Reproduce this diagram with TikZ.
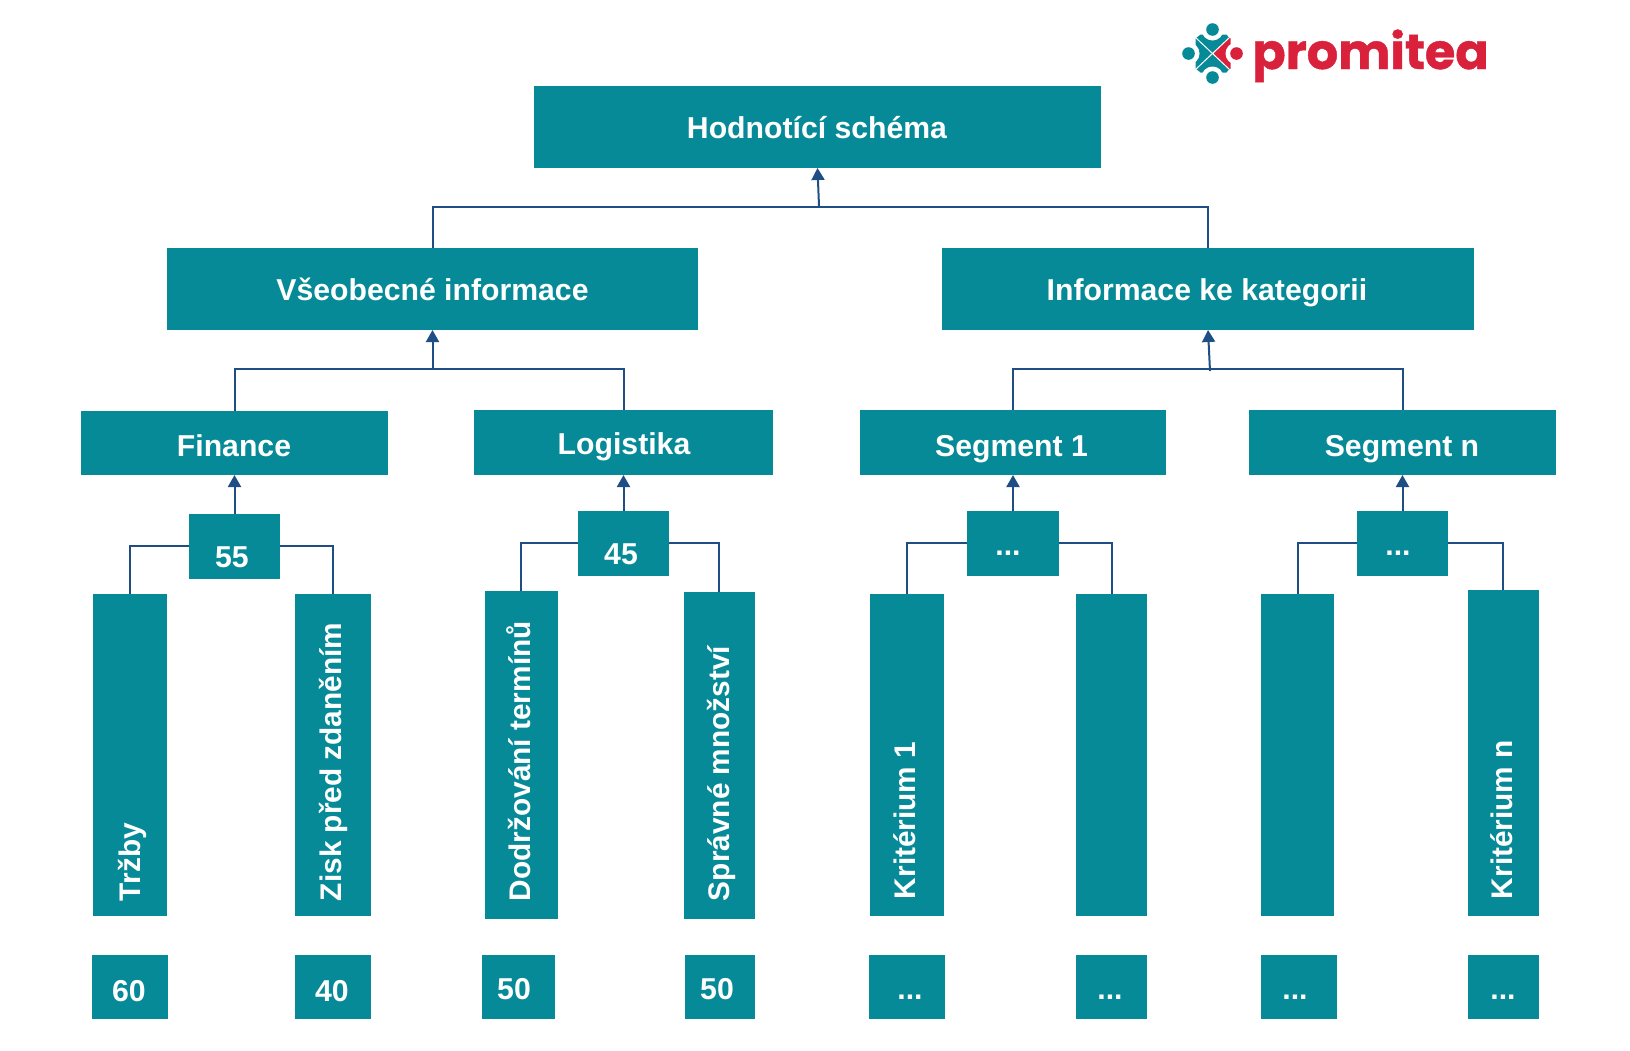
\documentclass[tikz,border=0pt]{standalone}
\usepackage{fontspec}
\setmainfont{Liberation Sans}
\newfontfamily\logofont[FakeBold=0.9]{Poppins}
\usetikzlibrary{arrows.meta}
\definecolor{teal1}{HTML}{078A98}
\definecolor{line1}{HTML}{1F4E85}
\definecolor{red1}{HTML}{D9213C}
\tikzset{
  tbox/.style={fill=teal1,draw=none,inner sep=0pt,outer sep=0pt},
  lbl/.style={text=white,font=\fontsize{30.2}{33}\selectfont\bfseries,inner sep=0pt,outer sep=0pt,anchor=base},
  vlbl/.style={text=white,font=\fontsize{29.8}{33}\selectfont\bfseries,inner sep=0pt,outer sep=0pt,rotate=90,anchor=base west},
  conn/.style={draw=line1,line width=2pt,line join=miter},
  arr/.style={draw=line1,line width=2pt,-{Triangle[length=12pt,width=13pt]}},
}
\newcommand{\bx}[5]{\node[tbox,minimum width={(#4-#2)*1pt},minimum height={(#5-#3)*1pt}] (#1) at ({(#2+#4)/2},{(#3+#5)/2}) {};}
\begin{document}
\begin{tikzpicture}[x=1pt,y=-1pt]
\useasboundingbox (0,0) rectangle (1630,1050);
% boxes
\bx{top}{534}{86}{1101}{168}
\bx{vse}{167}{248}{698}{330}
\bx{inf}{942}{248}{1474}{330}
\bx{fin}{81}{411}{388}{475}
\bx{log}{474}{410}{773}{475}
\bx{sega}{860}{410}{1166}{475}
\bx{segn}{1249}{410}{1556}{475}
\bx{wa}{189}{514}{280}{579}
\bx{wb}{578}{511}{669}{576}
\bx{wc}{967}{511}{1059}{576}
\bx{wd}{1357}{511}{1448}{576}
\bx{ta}{93}{594}{167}{916}
\bx{tb}{295}{594}{371}{916}
\bx{tc}{485}{591}{558}{919}
\bx{td}{684}{592}{755}{919}
\bx{te}{870}{594}{944}{916}
\bx{tf}{1076}{594}{1147}{916}
\bx{tg}{1261}{594}{1334}{916}
\bx{th}{1468}{590}{1539}{916}
\bx{ba}{92}{955}{168}{1019}
\bx{bb}{295}{955}{371}{1019}
\bx{bc}{482}{955}{555}{1019}
\bx{bd}{685}{955}{755}{1019}
\bx{be}{869}{955}{945}{1019}
\bx{bf}{1076}{955}{1147}{1019}
\bx{bg}{1261}{955}{1337}{1019}
\bx{bh}{1468}{955}{1539}{1019}
% labels
\node[lbl] (l1) at (817,138) {Hodnotící schéma};
\node[lbl] (l2) at (432.5,300) {Všeobecné informace};
\node[lbl] (l3) at (1207,300) {Informace ke kategorii};
\node[lbl] (l4) at (234,456) {Finance};
\node[lbl] (l5) at (624,454) {Logistika};
\node[lbl] (l6) at (1011.5,456) {Segment 1};
\node[lbl] (l7) at (1402,456) {Segment n};
\node[lbl] (l8) at (232,567) {55};
\node[lbl] (l9) at (621,564) {45};
\node[lbl] (l10) at (1008,555) {...};
\node[lbl] (l11) at (1398,555) {...};
\node[lbl] (l12) at (129,1001) {60};
\node[lbl] (l13) at (332,1001) {40};
\node[lbl] (l14) at (514,999) {50};
\node[lbl] (l15) at (717,999) {50};
\node[lbl] (l16) at (910,999) {...};
\node[lbl] (l17) at (1110,999) {...};
\node[lbl] (l18) at (1295,999) {...};
\node[lbl] (l19) at (1503,999) {...};
\node[vlbl] (v1) at (140,901) {Tržby};
\node[vlbl] (v2) at (341,901) {Zisk před zdaněním};
\node[vlbl] (v3) at (530,901) {Dodržování termínů};
\node[vlbl] (v4) at (729,901) {Správné množství};
\node[vlbl] (v5) at (915,899) {Kritérium 1};
\node[vlbl] (v6) at (1512,899) {Kritérium n};
% connectors
\coordinate (j1) at (433,207);
\coordinate (j1a) at (819,206);
\coordinate (j2) at (433,369);
\coordinate (j3) at (1013,369);
\coordinate (j3a) at (1210,371);
\draw[conn] (vse.north) |- (j1) -| (inf.north);
\draw[arr] (j1a) -- (top.south);
\draw[conn] (fin.north) |- (j2) -| (log.north);
\draw[arr] (vse.south |- j2) -- (vse.south);
\draw[conn] (sega.north) |- (j3) -| (segn.north);
\draw[arr] (j3a) -- (inf.south);
\draw[arr] (wa.north) -- (fin.south);
\draw[arr] (wb.north) -- (log.south);
\draw[arr] (wc.north) -- (sega.south);
\draw[arr] (wd.north) -- (segn.south);
\draw[conn] ([yshift=0.8pt]wa.west) -| (ta.north);
\draw[conn] ([yshift=0.8pt]wa.east) -| (tb.north);
\draw[conn] ([yshift=0.5pt]wb.west) -| ([xshift=-1pt]tc.north);
\draw[conn] ([yshift=0.5pt]wb.east) -| ([xshift=-1pt]td.north);
\draw[conn] ([yshift=0.5pt]wc.west) -| (te.north);
\draw[conn] ([yshift=0.5pt]wc.east) -| (tf.north);
\draw[conn] ([yshift=0.5pt]wd.west) -| (tg.north);
\draw[conn] ([yshift=0.5pt]wd.east) -| ([xshift=-1pt]th.north);
% logo
\begin{scope}[shift={(1212.5,53.5)}]
\fill[teal1] (-17,-15) -- (-12,-19) -- (14,-19) -- (17,-15) -- (17,15) -- (14,19) -- (-12,19) -- (-17,15) -- cycle;
\fill[red1] (0,0) -- (17,-16) -- (18,-15) -- (18,15) -- (17,16) -- cycle;
\fill[white] (0,-24) circle (11);
\fill[white] (0,24) circle (11);
\fill[white] (-24,0) circle (11);
\fill[white] (24,0) circle (11);
\fill[teal1] (0,-24) circle (6.3);
\fill[teal1] (0,24) circle (6.3);
\fill[teal1] (-24,0) circle (6.3);
\fill[red1] (24,0) circle (6.3);
\draw[white,line width=1pt] (-17,-16) -- (17,16) (17,-16) -- (-17,16);
\end{scope}
\node[text=red1,font=\logofont\bfseries\fontsize{49.3}{52}\selectfont,inner sep=0pt,anchor=base west] (logo) at (1252,69) {promitea};
\end{tikzpicture}
\end{document}
